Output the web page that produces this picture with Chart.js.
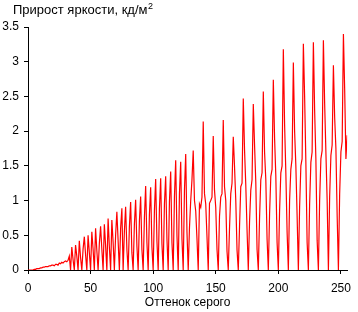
<!DOCTYPE html>
<html>
<head>
<meta charset="utf-8">
<script src="https://cdn.jsdelivr.net/npm/chart.js@4/dist/chart.umd.min.js"></script>
<style>
  html, body { margin: 0; padding: 0; background: #fff; }
  #wrap { width: 358px; height: 312px; }
</style>
</head>
<body>
<div id="wrap"><canvas id="chart"></canvas></div>
<script>
// Прирост яркости между соседними оттенками серого (0..255)

const chartTitle = 'Прирост яркости, кд/м';
const titleSup = '2';
const xAxisTitle = 'Оттенок серого';
const xTickStep = 50;
const yTickStep = 0.5;
const xMax = 255;
const yMax = 3.5;

// оттенки 0..63
const gainA = [
  0, 0, 0, 0, 0, 0.01, 0.01, 0.02, 0.02, 0.02,
  0.03, 0.03, 0.04, 0.04, 0.05, 0.05, 0.05, 0.06, 0.06, 0.07,
  0.07, 0.06, 0.08, 0.08, 0.07, 0.1, 0.09, 0.11, 0.1, 0.12,
  0.13, 0.12, 0.14, 0.2, 0, 0.33, 0.15, 0, 0.36, 0.2,
  0, 0.42, 0.18, 0, 0.3, 0.48, 0.22, 0, 0.5, 0.25,
  0, 0.55, 0.3, 0, 0.6, 0.28, 0, 0.38, 0.63, 0.3,
  0, 0.66, 0.35, 0
];
// оттенки 64..127
const gainB = [
  0.74, 0.33, 0, 0.72, 0.4, 0, 0.5, 0.84, 0.42, 0,
  0.6, 0.89, 0, 0.55, 0.91, 0.3, 0, 0.62, 0.98, 0.25,
  0, 0.66, 1.01, 0.35, 0, 0.7, 1.06, 0.3, 0, 0.75,
  1.21, 0.4, 0, 0.8, 1.19, 0.33, 0, 0.85, 1.31, 0.42,
  0, 0.88, 1.32, 0.38, 0, 0.95, 1.35, 0.45, 0, 0.98,
  1.42, 0.4, 0, 1.05, 1.58, 0.5, 0, 1.1, 1.56, 0.45,
  0, 1.15, 1.67, 0.55
];
// оттенки 128..191
const gainC = [
  0, 0.6, 1.0, 1.3, 1.72, 1.0, 0.85, 0.45,
  0, 0.95, 0.9, 1.05, 2.14, 1.1, 0.95, 0.48,
  0, 0.96, 1.0, 1.05, 1.93, 1.15, 0.9, 0.3,
  0, 0.77, 1.05, 1.1, 2.16, 1.2, 1.0, 0.27,
  0, 0.6, 1.1, 1.25, 1.92, 1.49, 1.0, 0.29,
  0, 0.62, 1.2, 1.25, 2.47, 1.73, 1.22, 0.58,
  0, 0.7, 1.15, 1.3, 2.39, 1.8, 1.26, 0.3,
  0, 0.75, 1.3, 1.4, 2.57, 1.7, 1.3, 0.45
];
// оттенки 192..255
const gainD = [
  0, 0.8, 1.35, 1.45, 2.74, 1.9, 1.35, 0.4,
  0, 0.85, 1.4, 1.5, 3.18, 2.1, 1.4, 0.55,
  0, 1.0, 1.45, 1.6, 2.99, 2.0, 1.5, 0.78,
  0, 0.9, 1.5, 1.6, 3.26, 2.5, 1.55, 0.4,
  0, 0.95, 1.55, 1.7, 3.28, 2.3, 1.6, 0.43,
  0, 1.0, 1.6, 1.72, 3.31, 2.4, 1.7, 1.0,
  0, 1.05, 1.65, 1.8, 2.95, 2.2, 1.75, 0.78,
  0, 1.1, 1.7, 1.85, 3.4, 2.6, 1.6, 1.94
];

const gain = gainA.concat(gainB, gainC, gainD);
const points = gain.map((v, i) => ({ x: i, y: v }));

const FONT = '"Liberation Sans", Arial, sans-serif';

// заголовок в левом верхнем углу, с верхним индексом
const cornerTitle = {
  id: 'cornerTitle',
  afterDraw(chart) {
    const ctx = chart.ctx;
    ctx.save();
    ctx.fillStyle = '#000';
    ctx.textBaseline = 'alphabetic';
    ctx.font = '13px ' + FONT;
    ctx.fillText(chartTitle, 13, 14);
    const w = ctx.measureText(chartTitle).width;
    ctx.font = '9px ' + FONT;
    ctx.fillText(titleSup, 13 + w + 0.5, 9);
    ctx.restore();
  }
};

new Chart(document.getElementById('chart'), {
  type: 'line',
  data: {
    datasets: [{
      data: points,
      borderColor: '#ff0000',
      borderWidth: 1.2,
      pointRadius: 0,
      tension: 0,
      fill: false
    }]
  },
  options: {
    responsive: true,
    maintainAspectRatio: false,
    animation: false,
    layout: { padding: { top: 27, right: 4, left: 0, bottom: 0 } },
    plugins: { legend: { display: false }, tooltip: { enabled: false } },
    scales: {
      x: {
        type: 'linear',
        min: 0,
        max: xMax,
        afterFit(scale) { scale.height = 42; },
        border: { display: true, color: '#000', width: 1 },
        grid: { display: true, drawOnChartArea: false, drawTicks: true, tickLength: 4, color: '#000' },
        ticks: { stepSize: xTickStep, includeBounds: false, maxRotation: 0, padding: 7, color: '#000', font: { family: FONT, size: 12 } },
        title: { display: true, text: xAxisTitle, color: '#000', padding: { top: 0, bottom: 2 }, font: { family: FONT, size: 12 } }
      },
      y: {
        min: 0,
        max: yMax,
        afterFit(scale) { scale.width = 28; },
        border: { display: true, color: '#000', width: 1 },
        grid: { display: true, drawOnChartArea: false, drawTicks: true, tickLength: 4, color: '#000' },
        ticks: { stepSize: yTickStep, includeBounds: false, padding: 5, color: '#000', font: { family: FONT, size: 12 }, callback: v => String(v) }
      }
    }
  },
  plugins: [cornerTitle]
});
</script>
</body>
</html>
